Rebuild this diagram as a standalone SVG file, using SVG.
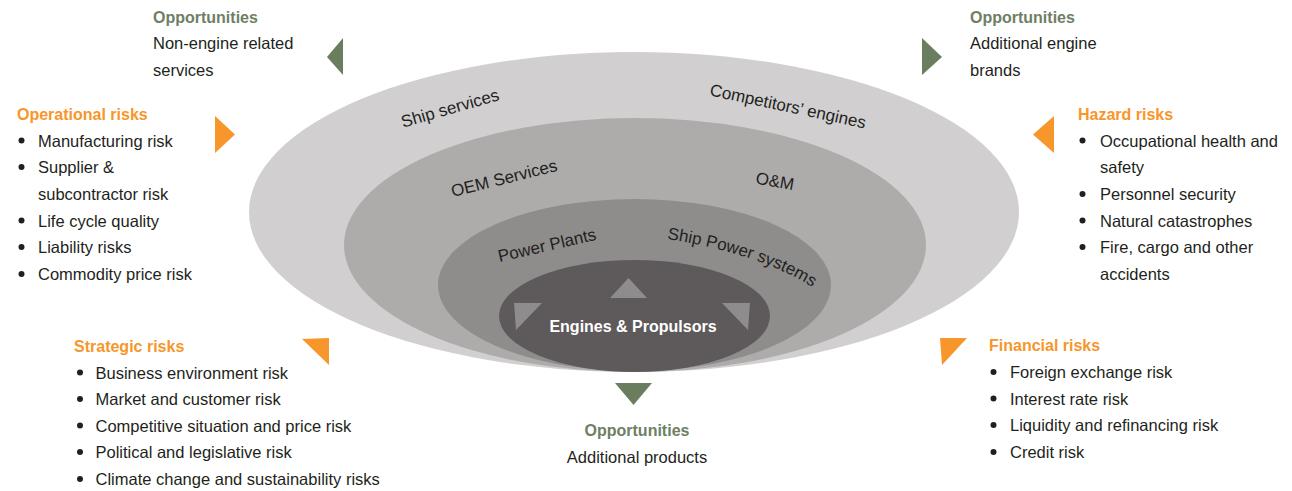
<svg xmlns="http://www.w3.org/2000/svg" width="1292" height="491" viewBox="0 0 1292 491">
<style>
text{font-family:"Liberation Sans",Arial,sans-serif;}
.body{font-size:16.5px;fill:#231F20;}
.lbl{font-size:17px;fill:#231F20;}
.hg{font-size:16px;font-weight:bold;fill:#6E8064;}
.ho{font-size:16px;font-weight:bold;fill:#F7962A;}
.ag{fill:#6B7D5F;}
.ao{fill:#F7962A;}
.tri{fill:#8E8C8D;}
.dot{fill:#231F20;}
</style>
<rect width="1292" height="491" fill="#FFFFFF"/>
<g id="rings">
<ellipse id="outer" cx="634" cy="212" rx="385" ry="160" fill="#D1CFD0"/>
<ellipse id="middle" cx="635" cy="245" rx="291" ry="127" fill="#ADACAB"/>
<ellipse id="third" cx="634.5" cy="285" rx="196.5" ry="86" fill="#8E8D8C"/>
<ellipse id="inner" cx="634.5" cy="316" rx="135.5" ry="56" fill="#5E595A"/>
</g>
<g id="ring-labels" class="lbl">
<text class="lbl" transform="translate(450,108) rotate(-16)" x="0" y="6" text-anchor="middle">Ship services</text>
<text class="lbl" transform="translate(504,178) rotate(-14)" x="0" y="6" text-anchor="middle">OEM Services</text>
<text class="lbl" transform="translate(788,106) rotate(12)" x="0" y="6" text-anchor="middle">Competitors’ engines</text>
<text class="lbl" transform="translate(775,181) rotate(10)" x="0" y="6" text-anchor="middle">O&amp;M</text>
<text class="lbl" transform="translate(547,245) rotate(-13)" x="0" y="6" text-anchor="middle">Power Plants</text>
<path id="spsPath" d="M 667 239 C 720 247, 780 264, 818 291" fill="none"/>
<text class="lbl"><textPath href="#spsPath">Ship Power systems</textPath></text>
</g>
<g id="core">
<polygon class="tri" points="610,298 647,298 628.5,278"/>
<polygon class="tri" points="514,303 542,303 516,330"/>
<polygon class="tri" points="722,303 750,303 748,330"/>
<text x="633" y="332" text-anchor="middle" style="font-size:16px;font-weight:bold;fill:#FFFFFF">Engines &amp; Propulsors</text>
</g>
<g id="connectors">
<polygon class="ag" points="343,38 343,75 327,57"/>
<polygon class="ag" points="922,38 922,75 942,57"/>
<polygon class="ag" points="615,383 652,383 633.5,405"/>
<polygon class="ao" points="215,116 215,153 235,134.5"/>
<polygon class="ao" points="1054,116 1054,153 1033,134.5"/>
<polygon class="ao" points="302,339 329,338 329,365"/>
<polygon class="ao" points="940,338 967,338 942,365"/>
</g>
<g id="opp-left">
<text class="hg" x="153" y="23">Opportunities</text>
<text class="body" x="153" y="49">Non-engine related</text>
<text class="body" x="153" y="76">services</text>
</g>
<g id="opp-right">
<text class="hg" x="970" y="23">Opportunities</text>
<text class="body" x="970" y="49">Additional engine</text>
<text class="body" x="970" y="76">brands</text>
</g>
<g id="opp-bottom">
<text class="hg" x="637" y="436" text-anchor="middle">Opportunities</text>
<text class="body" x="637" y="463" text-anchor="middle">Additional products</text>
</g>
<g id="operational">
<text class="ho" x="17" y="120">Operational risks</text>
<circle class="dot" cx="21.5" cy="140.5" r="3"/>
<text class="body" x="38" y="146.5">Manufacturing risk</text>
<circle class="dot" cx="21.5" cy="167" r="3"/>
<text class="body" x="38" y="173">Supplier &amp;</text>
<text class="body" x="38" y="199.5">subcontractor risk</text>
<circle class="dot" cx="21.5" cy="220.5" r="3"/>
<text class="body" x="38" y="226.5">Life cycle quality</text>
<circle class="dot" cx="21.5" cy="247" r="3"/>
<text class="body" x="38" y="253">Liability risks</text>
<circle class="dot" cx="21.5" cy="274" r="3"/>
<text class="body" x="38" y="280">Commodity price risk</text>
</g>
<g id="strategic">
<text class="ho" x="74" y="351.5">Strategic risks</text>
<circle class="dot" cx="80" cy="372.5" r="3"/>
<text class="body" x="95.5" y="378.5">Business environment risk</text>
<circle class="dot" cx="80" cy="399" r="3"/>
<text class="body" x="95.5" y="405">Market and customer risk</text>
<circle class="dot" cx="80" cy="425.5" r="3"/>
<text class="body" x="95.5" y="431.5">Competitive situation and price risk</text>
<circle class="dot" cx="80" cy="452" r="3"/>
<text class="body" x="95.5" y="458">Political and legislative risk</text>
<circle class="dot" cx="80" cy="479" r="3"/>
<text class="body" x="95.5" y="485">Climate change and sustainability risks</text>
</g>
<g id="hazard">
<text class="ho" x="1078" y="119.5">Hazard risks</text>
<circle class="dot" cx="1082.5" cy="140.5" r="3"/>
<text class="body" x="1100" y="146.5">Occupational health and</text>
<text class="body" x="1100" y="173">safety</text>
<circle class="dot" cx="1082.5" cy="194" r="3"/>
<text class="body" x="1100" y="200">Personnel security</text>
<circle class="dot" cx="1082.5" cy="220.5" r="3"/>
<text class="body" x="1100" y="226.5">Natural catastrophes</text>
<circle class="dot" cx="1082.5" cy="247" r="3"/>
<text class="body" x="1100" y="253">Fire, cargo and other</text>
<text class="body" x="1100" y="280">accidents</text>
</g>
<g id="financial">
<text class="ho" x="989" y="351">Financial risks</text>
<circle class="dot" cx="993.5" cy="372" r="3"/>
<text class="body" x="1010" y="378">Foreign exchange risk</text>
<circle class="dot" cx="993.5" cy="398.5" r="3"/>
<text class="body" x="1010" y="404.5">Interest rate risk</text>
<circle class="dot" cx="993.5" cy="425" r="3"/>
<text class="body" x="1010" y="431">Liquidity and refinancing risk</text>
<circle class="dot" cx="993.5" cy="452" r="3"/>
<text class="body" x="1010" y="458">Credit risk</text>
</g>
</svg>
